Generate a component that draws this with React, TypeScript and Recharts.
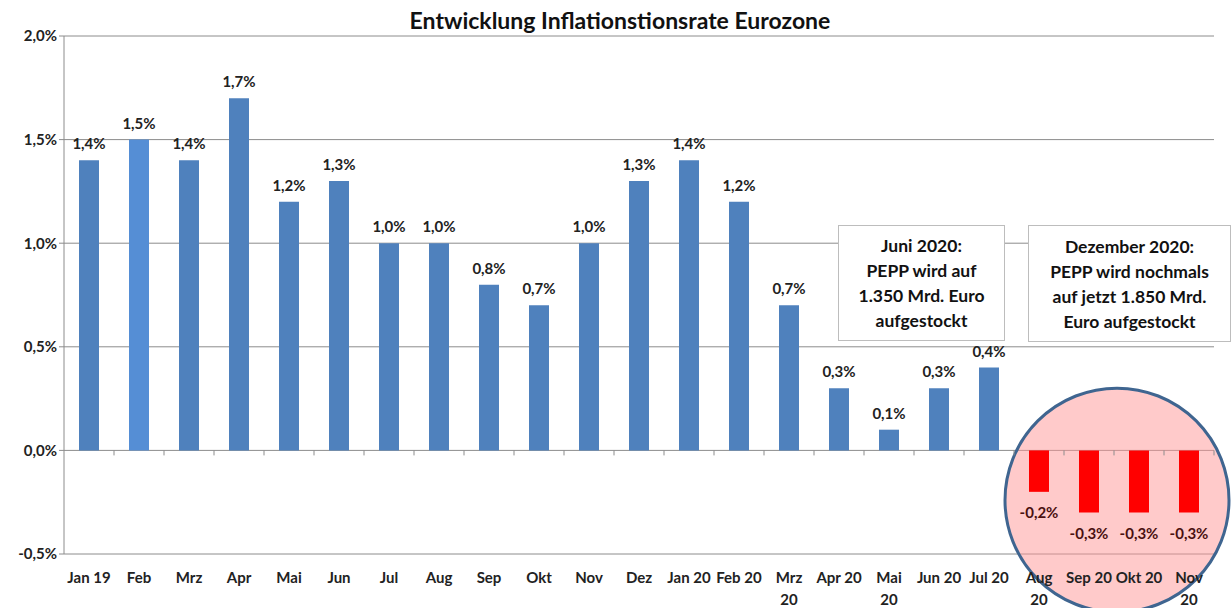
import React from "react";
import {
  BarChart,
  Bar,
  Cell,
  XAxis,
  YAxis,
  CartesianGrid,
  LabelList,
  ReferenceDot,
} from "recharts";

const categories = [
  "Jan 19", "Feb", "Mrz", "Apr", "Mai", "Jun", "Jul", "Aug", "Sep", "Okt", "Nov", "Dez",
  "Jan 20", "Feb 20", "Mrz 20", "Apr 20", "Mai 20", "Jun 20", "Jul 20", "Aug 20", "Sep 20", "Okt 20", "Nov 20",
];
const inflation = [
  1.4, 1.5, 1.4, 1.7, 1.2, 1.3, 1.0, 1.0, 0.8, 0.7, 1.0, 1.3,
  1.4, 1.2, 0.7, 0.3, 0.1, 0.3, 0.4, -0.2, -0.3, -0.3, -0.3,
];
// labels that Excel wrapped onto two lines
const wrappedLabels = ["Mrz 20", "Mai 20", "Aug 20", "Nov 20"];
const yTicks = [-0.5, 0, 0.5, 1.0, 1.5, 2.0];
const highlightCat = "Sep 20";
const highlightY = -0.24;

const W = 1231;
const H = 608;
const M = { top: 36, right: 17, bottom: 4, left: 8 };
const Y_AXIS_W = 56;
const X_AXIS_H = 50;
const plotTop = M.top;
const plotH = H - M.top - M.bottom - X_AXIS_H;
const plotW = W - M.left - M.right - Y_AXIS_W;
const band = plotW / categories.length;
const zeroY = plotTop + (2.0 / 2.5) * plotH;

const data = categories.map((c, i) => ({ name: c, value: inflation[i] }));

const fmt = (v: number) => v.toFixed(1).replace(".", ",") + "%";

const barColor = (v: number, i: number) => {
  if (v < 0) return "#ff0000";
  if (i === 1) return "#558ed5";
  return "#4f81bd";
};

const font = "Lato, 'Open Sans', sans-serif";

const XTick = (props: any) => {
  const { x, y, payload } = props;
  const label: string = payload.value;
  const lines = wrappedLabels.includes(label) ? label.split(" ") : [label];
  return (
    <g>
      <line x1={x + band / 2} x2={x + band / 2} y1={zeroY} y2={zeroY + 5} stroke="#8c8c8c" />
      {lines.map((l, i) => (
        <text
          key={i}
          x={x}
          y={y + 21 + i * 22}
          textAnchor="middle"
          fontFamily={font}
          fontWeight={700}
          fontSize={15}
          fill="#222"
        >
          {l}
        </text>
      ))}
    </g>
  );
};

const ValueLabel = (props: any) => {
  const { x, y, width, height, value } = props;
  const neg = value < 0;
  const cx = x + width / 2;
  return (
    <text
      x={cx}
      y={neg ? y + Math.max(height, 0) + 26 : y - 11}
      textAnchor="middle"
      fontFamily={font}
      fontWeight={700}
      fontSize={15}
      fill={neg ? "#4a1010" : "#222"}
    >
      {fmt(value)}
    </text>
  );
};

const boxStyle: React.CSSProperties = {
  position: "absolute",
  background: "#fff",
  border: "1px solid #bdbdbd",
  fontFamily: font,
  fontWeight: 700,
  fontSize: 17.5,
  lineHeight: "25px",
  color: "#111",
  textAlign: "center",
  display: "flex",
  alignItems: "center",
  justifyContent: "center",
  boxSizing: "border-box",
};

export default function App() {
  return (
    <div style={{ position: "absolute", left: 0, top: 0, width: W, height: H, background: "#fff" }}>
      <div
        style={{
          position: "absolute",
          left: 0,
          width: 1240,
          top: 6,
          textAlign: "center",
          fontFamily: font,
          fontWeight: 700,
          fontSize: 23,
          color: "#111",
        }}
      >
        Entwicklung Inflationstionsrate Eurozone
      </div>
      <BarChart width={W} height={H} data={data} margin={M} barSize={20}>
        <CartesianGrid vertical={false} stroke="#8c8c8c" />
        <YAxis
          width={Y_AXIS_W}
          domain={[-0.5, 2]}
          ticks={yTicks}
          tickFormatter={fmt}
          axisLine={{ stroke: "#8c8c8c" }}
          tickLine={{ stroke: "#8c8c8c" }}
          tickSize={5}
          tick={{ fontFamily: font, fontWeight: 700, fontSize: 15, fill: "#222" }}
        />
        <XAxis
          dataKey="name"
          height={X_AXIS_H}
          axisLine={false}
          tickLine={false}
          interval={0}
          tick={<XTick />}
        />
        <ReferenceDot
          x={highlightCat}
          y={highlightY}
          ifOverflow="visible"
          zIndex={250}
          shape={(p: any) => (
            <ellipse
              cx={p.cx + band / 2 + 3}
              cy={p.cy}
              rx={112}
              ry={112}
              fill="rgba(255,150,150,0.5)"
              stroke="#3f6590"
              strokeWidth={3}
            />
          )}
        />
        <Bar dataKey="value" isAnimationActive={false}>
          {data.map((d, i) => (
            <Cell key={i} fill={barColor(d.value, i)} />
          ))}
          <LabelList dataKey="value" content={<ValueLabel />} />
        </Bar>
      </BarChart>
      <div style={{ ...boxStyle, left: 838, top: 225, width: 167, height: 116 }}>
        Juni 2020:
        <br />
        PEPP wird auf
        <br />
        1.350 Mrd. Euro
        <br />
        aufgestockt
      </div>
      <div style={{ ...boxStyle, left: 1028, top: 225, width: 203, height: 117 }}>
        Dezember 2020:
        <br />
        PEPP wird nochmals
        <br />
        auf jetzt 1.850 Mrd.
        <br />
        Euro aufgestockt
      </div>
    </div>
  );
}
